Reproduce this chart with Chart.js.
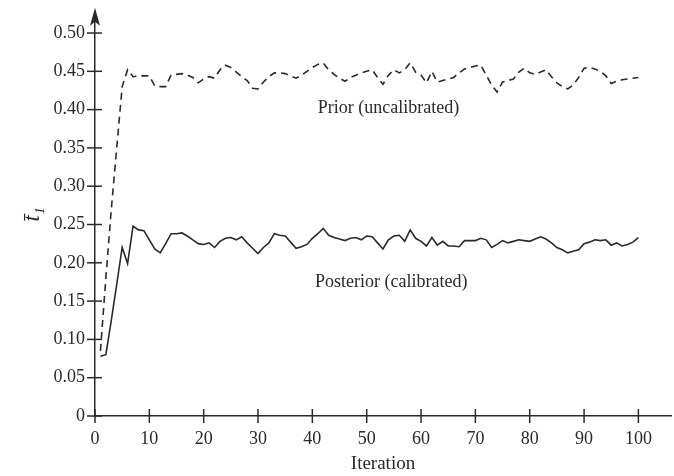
<!DOCTYPE html>
<html>
<head>
<meta charset="utf-8">
<script src="https://cdn.jsdelivr.net/npm/chart.js@4/dist/chart.umd.min.js"></script>
<style>
  html, body { margin: 0; padding: 0; background: #fff; }
  #wrap { width: 674px; height: 476px; }
</style>
</head>
<body>
<div id="wrap"><canvas id="chart" width="674" height="476"></canvas></div>
<script>
const iterations = Array.from({ length: 100 }, (_, i) => i + 1)

const prior = [
  0.085, 0.180, 0.270, 0.350, 0.430, 0.452, 0.443, 0.444, 0.444, 0.444,
  0.431, 0.430, 0.430, 0.445, 0.446, 0.447, 0.445, 0.442, 0.435, 0.440,
  0.443, 0.441, 0.452, 0.458, 0.455, 0.449, 0.443, 0.438, 0.428, 0.427,
  0.436, 0.443, 0.448, 0.448, 0.447, 0.444, 0.441, 0.445, 0.450, 0.455,
  0.459, 0.461, 0.452, 0.446, 0.441, 0.437, 0.442, 0.445, 0.448, 0.450,
  0.452, 0.442, 0.433, 0.445, 0.452, 0.448, 0.452, 0.461, 0.449, 0.445,
  0.435, 0.450, 0.436, 0.438, 0.440, 0.442, 0.448, 0.453, 0.455, 0.457,
  0.458, 0.445, 0.432, 0.423, 0.436, 0.438, 0.440, 0.449, 0.454, 0.448,
  0.446, 0.449, 0.452, 0.443, 0.435, 0.430, 0.427, 0.432, 0.442, 0.454,
  0.455, 0.453, 0.450, 0.444, 0.434, 0.437, 0.439, 0.440, 0.441, 0.442
]

const posterior = [
  0.078, 0.080, 0.125, 0.172, 0.220, 0.199, 0.248, 0.243, 0.242, 0.230,
  0.218, 0.213, 0.225, 0.238, 0.238, 0.239, 0.235, 0.230, 0.225, 0.224,
  0.226, 0.220, 0.228, 0.232, 0.233, 0.230, 0.234, 0.226, 0.219, 0.212,
  0.220, 0.226, 0.238, 0.236, 0.235, 0.227, 0.219, 0.221, 0.224, 0.232,
  0.238, 0.245, 0.236, 0.233, 0.231, 0.229, 0.232, 0.233, 0.230, 0.235,
  0.234, 0.226, 0.218, 0.230, 0.235, 0.236, 0.228, 0.243, 0.232, 0.228,
  0.222, 0.233, 0.223, 0.228, 0.222, 0.222, 0.221, 0.229, 0.229, 0.229,
  0.232, 0.230, 0.220, 0.224, 0.229, 0.226, 0.228, 0.230, 0.229, 0.228,
  0.231, 0.234, 0.231, 0.226, 0.220, 0.217, 0.213, 0.215, 0.217, 0.225,
  0.227, 0.230, 0.229, 0.230, 0.223, 0.226, 0.222, 0.224, 0.227, 0.233
]

const xTicks = [0, 10, 20, 30, 40, 50, 60, 70, 80, 90, 100]
const yTicks = [0, 0.05, 0.10, 0.15, 0.20, 0.25, 0.30, 0.35, 0.40, 0.45, 0.50]

// text labels placed in data coordinates
const notes = [
  { text: 'Prior (uncalibrated)', x: 54, y: 0.402 },
  { text: 'Posterior (calibrated)', x: 54.5, y: 0.175 }
]

const ink = '#2a2a2a'
const serif = "'Liberation Serif', 'DejaVu Serif', serif"

Chart.defaults.font.family = serif
Chart.defaults.font.size = 18
Chart.defaults.color = ink

const axisDecor = {
  id: 'axisDecor',
  afterDraw(chart) {
    const { ctx, chartArea } = chart
    const xs = chart.scales.x
    const ys = chart.scales.y
    const x0 = xs.getPixelForValue(0)
    const y0 = ys.getPixelForValue(0)
    ctx.save()
    ctx.strokeStyle = ink
    ctx.fillStyle = ink
    ctx.lineWidth = 1.5
    // crossing tick marks
    yTicks.forEach(v => {
      const y = ys.getPixelForValue(v)
      ctx.beginPath()
      ctx.moveTo(x0 - 8, y)
      ctx.lineTo(x0 + 7, y)
      ctx.stroke()
    })
    xTicks.forEach(v => {
      const x = xs.getPixelForValue(v)
      ctx.beginPath()
      ctx.moveTo(x, y0 - 7)
      ctx.lineTo(x, y0 + 7)
      ctx.stroke()
    })
    // arrow head on the y axis
    const top = chartArea.top - 5
    ctx.beginPath()
    ctx.moveTo(x0, top)
    ctx.lineTo(x0 - 5, top + 18)
    ctx.lineTo(x0, top + 14)
    ctx.lineTo(x0 + 5, top + 18)
    ctx.closePath()
    ctx.fill()
    // curve labels
    ctx.font = '18px ' + serif
    ctx.textAlign = 'center'
    ctx.textBaseline = 'middle'
    notes.forEach(n => {
      ctx.fillText(n.text, xs.getPixelForValue(n.x), ys.getPixelForValue(n.y))
    })
    ctx.restore()
  }
}

new Chart(document.getElementById('chart'), {
  type: 'line',
  data: {
    labels: iterations,
    datasets: [{
      label: 'Prior (uncalibrated)',
      data: iterations.map((x, i) => ({ x, y: prior[i] })),
      borderColor: ink,
      borderWidth: 1.6,
      borderDash: [7, 5],
      pointRadius: 0,
      tension: 0
    }, {
      label: 'Posterior (calibrated)',
      data: iterations.map((x, i) => ({ x, y: posterior[i] })),
      borderColor: ink,
      borderWidth: 1.6,
      pointRadius: 0,
      tension: 0
    }]
  },
  options: {
    responsive: false,
    animation: false,
    layout: { padding: { left: 0, top: 8, right: 3, bottom: 0 } },
    plugins: {
      legend: { display: false },
      tooltip: { enabled: false }
    },
    scales: {
      x: {
        type: 'linear',
        min: 0,
        max: 106,
        afterFit: s => { s.height = 60 },
        grid: { display: false },
        border: { display: true, color: ink, width: 1.5 },
        ticks: {
          stepSize: 10,
          includeBounds: false,
          padding: 4,
          maxRotation: 0,
          callback: v => (v <= 100 ? String(v) : '')
        },
        title: {
          display: true,
          text: 'Iteration',
          font: { size: 19 },
          padding: { top: 0, bottom: 1 }
        }
      },
      y: {
        type: 'linear',
        min: 0,
        max: 0.5264,
        afterFit: s => { s.width = 95 },
        grid: { display: false },
        border: { display: true, color: ink, width: 1.5 },
        ticks: {
          stepSize: 0.05,
          includeBounds: false,
          padding: 2,
          callback: v => (v === 0 ? '0' : v.toFixed(2))
        },
        title: {
          display: true,
          text: 't\u0304\u2081',
          font: { size: 23, style: 'italic' },
          padding: { top: 19, bottom: 0 }
        }
      }
    }
  },
  plugins: [axisDecor]
})
</script>
</body>
</html>
